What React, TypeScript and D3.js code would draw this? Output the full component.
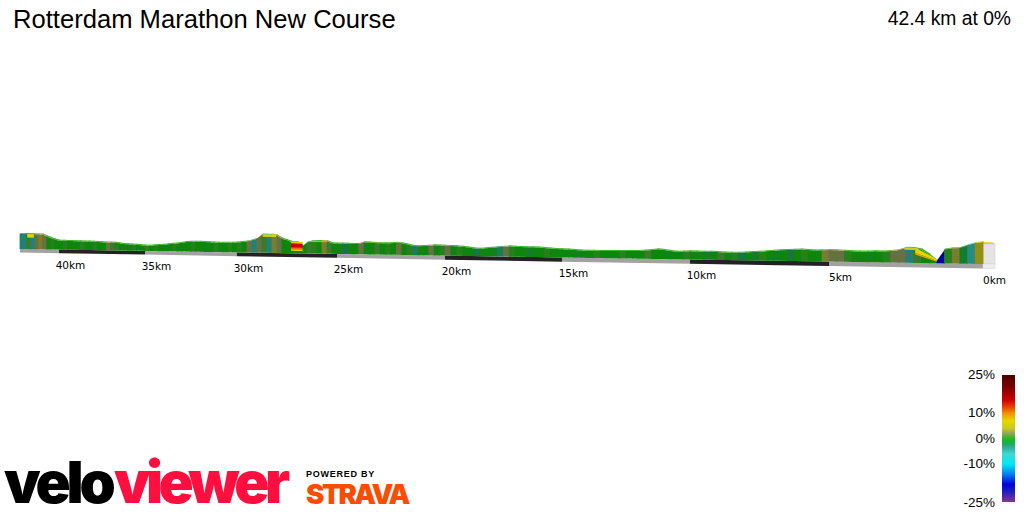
import React from 'react';
import * as d3 from 'd3';

// distance ticks along the road (perspective makes them uneven)
const tickKm = [0, 5, 10, 15, 20, 25, 30, 35, 40, 42.4];
const tickX = [983, 829, 690, 562, 445, 337, 237, 145, 59, 20];
const tickBaseY = [264, 261.6, 259.5, 257.5, 255.6, 253.9, 252.4, 250.9, 249.6, 249];
const tickLabels = ['0km', '5km', '10km', '15km', '20km', '25km', '30km', '35km', '40km'];

const stepKm = 0.25;
// metres above the base, one value every 250 m from the finish end
const elevations = [
  22, 21, 18.4, 15.6, 15.2, 14, 1.8, 8.5, 13.5, 15, 15, 12.5, 11.6, 11, 11, 10.8, 10.6, 10.7, 11, 11.5,
  11.5, 11.2, 11, 11.3, 11.7, 11.3, 10.9, 10.7, 10, 9.4, 8.8, 8.4, 7.9, 7.5, 7.3, 7.6, 8, 8, 7.9, 8.1,
  8.2, 7.9, 7.6, 8.2, 9.2, 9.7, 9, 8.4, 7.8, 7.6, 7.6, 7.4, 7.4, 7.3, 7.2, 7.2, 7.2, 7.4, 7.8, 8.1,
  8.3, 8.5, 8.9, 9.2, 9.5, 9.7, 9.8, 9.9, 10.1, 10.3, 9.9, 9.2, 8.5, 7.9, 7.4, 7.7, 8.4, 9.1, 9.5, 9.7,
  9.9, 10, 10.1, 9.7, 9.3, 9, 9.4, 10.6, 11.6, 12, 11.6, 11.3, 11.4, 11.6, 11.8, 12, 10.2, 10.2, 10.3, 10.4,
  10.4, 10.5, 12.4, 12.7, 12.5, 12.4, 11, 6.8, 11.2, 11, 13, 14.4, 17.5, 18.1, 18.2, 18.2, 14, 12.4, 11.1, 10.4,
  9.8, 9.6, 9.5, 9.4, 9.3, 9.5, 9.8, 10, 10, 9.9, 9.8, 9.7, 8.8, 8, 7.5, 7, 6.5, 6.1, 5.7, 5.3,
  5.3, 5.6, 5.9, 6.2, 6.4, 6.7, 7.2, 7.6, 7.8, 7.9, 8.1, 8.3, 8.4, 8.5, 8.6, 8.7, 8.7, 8.8, 8.8, 8.9,
  8.9, 10, 11.5, 13, 14.8, 15, 15, 15.1, 15, 15, 15,
];
// gradient % of each 250 m strip
const grades = [
  5, -5, -1, 3, 0.5, -18, 0, 0, 1, -4, 2, 2, 0.5, 0, -0.5, 0, 0, 0.5, 2, 2,
  3, 0, 0, 0.5, 0, -2, 0, -0.5, 0, 0.5, -1, 0, -2, 0.5, 0, 1, 0, -0.5, 0, 0,
  0.5, 0, 0, -0.5, 0, 0, 1, 0, 0, 0, 0.5, 0, 0, 0, 0.5, 0, 0, -0.5, 0, 0,
  0, 0, 0.5, 0, 0, -1, 0, 0, 0.5, 2, -3, -0.5, 0, 0, -2, 0, 0, 0.5, 0, 2,
  0.5, 0, 2, 0, 0, -3, 0.5, 0, 2, 0, 0.5, 0, 1, 0, 0, 2, 0, 0, -2, 0,
  0, 1, 3, 0, 0.5, 1, 0, 0, 0, 0, 0, 2, 3, -4, 1, 2, -4, 2, 0, 0.5,
  0, 0.5, 0, 0, 0.5, 0, -0.5, 0, 0, 0.5, 0, 0, 0, 0.5, 0, 0, 0, 0.5, 0, 1,
  0, 0, 0.5, 0, 0, 0, 0.5, 1, 2, 0, 0, 0.5, 0, 0, 0.5, 0, 0, 0, 0.5, 0,
  0, 0.5, 0, 2, 3, 2, -4, 1, -4, -4,
];

// steep climbs whose stacked faces read as flat or slanted colour bands
const bandFromKm = [26.72, 26.72, 26.72, 26.72, 1.5, 1.5, 28.05, 41.55, 2.2, 25.5];
const bandToKm = [27.3, 27.3, 27.3, 27.3, 2.2, 2.2, 28.72, 41.95, 2.55, 26.3];
const bandTopNear = [11.6, 9.6, 5.6, 4, 4, 2.5, 18.2, 15, 15, 12.7];
const bandTopFar = [11.6, 9.6, 5.6, 4, 15.5, 10, 18.2, 15, 15, 12.7];
const bandBottomNear = [9.6, 5.6, 4, 2.5, 2.5, 1.5, 16, 11.5, 13, 11.5];
const bandBottomFar = [9.6, 5.6, 4, 2.5, 10, 8.5, 16, 11.5, 13, 11.5];
const bandGrade = [6, 15, 11, 7, 6.5, 9, 6, 6.5, 5, 3];

const legendPct = [25, 20, 15, 12, 10, 7, 4, 2, 0, -2, -4, -6, -10, -14, -18, -21, -25];
const legendColors = [
  '#4a0000', '#800000', '#d00000', '#ee4a00', '#f09000', '#e8d800', '#c8c820', '#90a060', '#14c014',
  '#20a860', '#30b8a8', '#40d8d0', '#00e8f8', '#0080f0', '#0000e0', '#2020c0', '#803890',
];
const legendTicks = [25, 10, 0, -10, -25];

const x = d3.scaleLinear().domain(tickKm).range(tickX);
const baseY = d3.scaleLinear().domain(tickKm).range(tickBaseY);
const baseDepth = d3.scaleLinear().domain([0, 42.4]).range([4.5, 3.5]);
const gradeColor = d3.scaleLinear<string>().domain(legendPct).range(legendColors).interpolate(d3.interpolateRgb);
const legendY = d3.scaleLinear().domain([25, 10, 0, -10, -25]).range([375, 413, 439, 464, 502]);
const elevPx = d3.scaleLinear().domain([0, 20]).range([0, 20]);

const kmAt = (i: number) => Math.min(i * stepKm, 42.4);
const topY = (km: number, m: number) => baseY(km) - elevPx(m);
const poly = d3.line();

const strips = grades.map((g, i) => ({
  k0: kmAt(i),
  k1: kmAt(i + 1),
  e0: elevations[i],
  e1: elevations[i + 1],
  g,
})).reverse();

const bands = bandGrade.map((g, i) => ({
  id: i,
  k0: bandFromKm[i],
  k1: bandToKm[i],
  tn: bandTopNear[i],
  tf: bandTopFar[i],
  bn: bandBottomNear[i],
  bf: bandBottomFar[i],
  g,
}));

const bandKm = d3.range(0, 8).map((i) => [tickKm[i], tickKm[i + 1], i % 2]);
bandKm.push([40, 42.4, 0]);

const sans = '"Liberation Sans", Arial, sans-serif';

export default function App() {
  const capX = x(0);
  return (
    <svg width={1024} height={512} style={{ position: 'absolute', left: 0, top: 0, background: '#fff' }}>
      <defs>
        <linearGradient id="grade" x1="0" x2="0" y1="0" y2="1">
          {legendPct.map((p, i) => (
            <stop key={p} offset={(legendY(p) - 375) / 127} stopColor={legendColors[i]} />
          ))}
        </linearGradient>
      </defs>

      <text x={13} y={28} fontFamily={sans} fontSize={25.6}>Rotterdam Marathon New Course</text>
      <text x={1011} y={25} textAnchor="end" fontFamily={sans} fontSize={19.3}>42.4 km at 0%</text>

      {/* road base, alternating every 5 km */}
      {bandKm.map(([a, b, dark]) => (
        <path
          key={a}
          fill={dark ? '#222222' : '#a2a2a2'}
          d={poly([
            [x(a), baseY(a)],
            [x(b), baseY(b)],
            [x(b), baseY(b) + baseDepth(b)],
            [x(a), baseY(a) + baseDepth(a)],
          ])!}
        />
      ))}

      {/* finish end cap */}
      <rect x={capX} y={topY(0, 20)} width={12} height={elevPx(20)} fill="#e4e4e4" stroke="#d0d0d0" strokeWidth={0.6} />
      <rect x={capX} y={baseY(0)} width={12} height={baseDepth(0)} fill="#eeeeee" stroke="#d8d8d8" strokeWidth={0.6} />
      <path
        fill={gradeColor(6.5)}
        d={poly([
          [capX, topY(0, 22)],
          [capX + 10, topY(0, 21.4)],
          [capX + 12, topY(0, 20)],
          [capX, topY(0, 20)],
        ])!}
      />

      {/* far strips first so the near ones cover them */}
      {strips.map((s) => {
        const c = gradeColor(s.g);
        const face = d3.color(c)!.darker(1).formatHex();
        const pts: [number, number][] = [
          [x(s.k1) - 0.4, baseY(s.k1)],
          [x(s.k1) - 0.4, topY(s.k1, s.e1)],
          [x(s.k0) + 0.4, topY(s.k0, s.e0)],
          [x(s.k0) + 0.4, baseY(s.k0)],
        ];
        const rim: [number, number][] = [
          [x(s.k1) - 0.4 + 1, topY(s.k1, s.e1) - 1],
          [x(s.k0) + 0.4 + 1, topY(s.k0, s.e0) - 1],
          [x(s.k0) + 0.4, topY(s.k0, s.e0)],
          [x(s.k1) - 0.4, topY(s.k1, s.e1)],
        ];
        return (
          <g key={s.k0}>
            <path d={poly(pts)!} fill={face} />
            <path d={poly(rim)!} fill={s.g > 1 ? c : d3.interpolateRgb(c, '#9a9a60')(0.3)} />
          </g>
        );
      })}

      {bands.map((b) => (
        <path
          key={b.id}
          fill={gradeColor(b.g)}
          d={poly([
            [x(b.k1), topY(b.k1, b.tf)],
            [x(b.k0), topY(b.k0, b.tn)],
            [x(b.k0), topY(b.k0, b.bn)],
            [x(b.k1), topY(b.k1, b.bf)],
          ])!}
        />
      ))}

      {tickLabels.map((t, i) => (
        <text
          key={t}
          x={x(tickKm[i]) + 11.5}
          y={baseY(tickKm[i]) + 19.5}
          textAnchor="middle"
          fontFamily='"DejaVu Sans", sans-serif'
          fontSize={10.5}
        >
          {t}
        </text>
      ))}

      {/* gradient legend */}
      <rect x={1002} y={375} width={13} height={127} fill="url(#grade)" />
      {legendTicks.map((p) => (
        <text
          key={p}
          x={995}
          y={legendY(p) + (p === 25 ? 4 : p === -25 ? 5 : 4)}
          textAnchor="end"
          fontFamily={sans}
          fontSize={13.5}
        >
          {p}%
        </text>
      ))}

      {/* logos */}
      <text
        x={4}
        y={503}
        fontFamily="Inter, sans-serif"
        fontWeight={900}
        fontSize={58}
        letterSpacing={-4.2}
      >
        velo
      </text>
      <text
        x={114}
        y={503}
        fill="#ff0f3f"
        fontFamily="Inter, sans-serif"
        fontWeight={900}
        fontSize={58}
        letterSpacing={-4.6}
      >
        viewer
      </text>
      <text x={306} y={477} fontFamily={sans} fontWeight={700} fontSize={9} letterSpacing={0.75}>POWERED BY</text>
      <text
        x={306}
        y={504}
        fill="#fc4c02"
        fontFamily="Inter, sans-serif"
        fontWeight={900}
        fontSize={27.5}
        letterSpacing={-2.4}
      >
        STRAVA
      </text>
    </svg>
  );
}
